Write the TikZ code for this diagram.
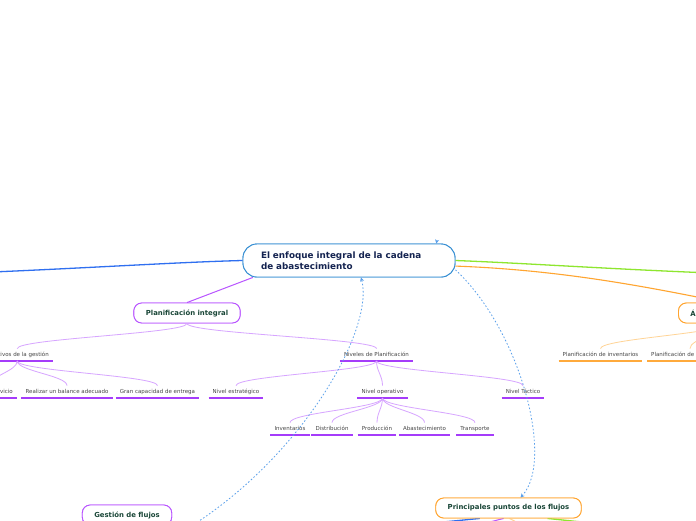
\documentclass[tikz,border=0pt]{standalone}
\usepackage{fontspec}
\setmainfont{DejaVu Sans}
\usetikzlibrary{arrows.meta,calc}
\definecolor{blueline}{RGB}{47,111,240}
\definecolor{greenline}{RGB}{142,230,47}
\definecolor{orangeline}{RGB}{255,165,48}
\definecolor{purpline}{RGB}{185,85,255}
\definecolor{ulpurple}{RGB}{165,60,250}
\definecolor{lightpurple}{RGB}{215,165,255}
\definecolor{lightorange}{RGB}{255,212,150}
\definecolor{ulorange}{RGB}{255,170,60}
\definecolor{dashblue}{RGB}{90,160,235}
\definecolor{centralborder}{RGB}{50,140,210}
\definecolor{centraltext}{RGB}{20,35,80}
\definecolor{nodetext}{RGB}{25,70,55}
\definecolor{leaftext}{RGB}{70,70,70}
\tikzset{
  central/.style={draw=centralborder, line width=0.9pt, fill=white, rounded corners=14pt,
    minimum width=212pt, minimum height=33pt, text width=176pt, inner xsep=18pt, align=left,
    font=\bfseries\fontsize{8.8}{11}\selectfont, text=centraltext},
  topic/.style={line width=0.9pt, fill=white, rounded corners=8pt, minimum height=20pt,
    inner xsep=12pt, font=\bfseries\fontsize{6.9}{8}\selectfont, text=nodetext},
  leaf/.style={font=\fontsize{5.5}{6.5}\selectfont, text=leaftext, inner xsep=4pt,
    inner ysep=2.5pt, text height=5.5pt, text depth=1.5pt},
  ulp/.style={draw=ulpurple, line width=1.6pt},
  ulo/.style={draw=ulorange, line width=1.6pt},
  branchp/.style={draw=lightpurple, line width=0.8pt},
  brancho/.style={draw=lightorange, line width=0.8pt},
  relation/.style={draw=dashblue, line width=0.8pt, dash pattern=on 1.6pt off 2pt,
    -{Stealth[length=4pt,width=4pt]}},
}
\newcommand{\curve}[3]{\draw[#1] (#2.south) .. controls +(0,10) and +(0,-10) .. (#3.north);}
\newcommand{\uline}[2]{\draw[#1] (#2.south west) -- (#2.south east);}
\begin{document}
\begin{tikzpicture}[x=1pt,y=-1pt]
\useasboundingbox (0,0) rectangle (696,520);
\clip (0,0) rectangle (696,520);
\fill[white] (0,0) rectangle (696,520);

% off-screen targets
\coordinate (offL) at (-120,276);
\coordinate (offR) at (800,276);
\coordinate (gfL) at (40,530);
\coordinate (gfR) at (210,530);
\coordinate (ppL) at (360,530);
\coordinate (ppR) at (660,530);
\coordinate (ppP) at (458,530);
\coordinate (ppO) at (532,530);
\coordinate (relS) at (185,530);
\coordinate (relT) at (437,240);

\node[central] (c) at (349,260.5) {El enfoque integral de la cadena\\de abastecimiento};
\node[topic, draw=purpline] (pi) at (187,313) {Planificación integral};
\node[topic, draw=orangeline, anchor=west] (ar) at (678,313) {Áreas de decisión};
\node[topic, draw=purpline] (gf) at (127,515) {Gestión de flujos};
\node[topic, draw=orangeline] (pp) at (508.5,508) {Principales puntos de los flujos};

% main branches
\draw[blueline, line width=1.3pt] (c.west) .. controls +(-80,2) and +(150,-4) .. (offL);
\draw[greenline, line width=1.3pt] (c.east) .. controls +(80,3) and +(-150,-4) .. (offR);
\draw[orangeline, line width=1.1pt] (c.-3) .. controls +(110,4) and +(-70,-14) .. (ar.north);
\draw[purpline, line width=1pt] (c.190) -- (pi.north);

\draw[blueline, line width=1.3pt] (gf.south west) -- (gfL);
\draw[greenline, line width=1.3pt] (gf.south east) -- (gfR);
\draw[blueline, line width=1.3pt] (pp.200) -- (ppL);
\draw[greenline, line width=1.3pt] (pp.-15) -- (ppR);
\draw[purpline, line width=1pt] (pp.-115) -- (ppP);
\draw[lightorange, line width=1pt] (pp.-85) -- (ppO);

% redraw nodes on top of branch lines
\node[central] at (c) {El enfoque integral de la cadena\\de abastecimiento};
\node[topic, draw=purpline] at (pi) {Planificación integral};
\node[topic, draw=orangeline, anchor=west] at (ar.west) {Áreas de decisión};
\node[topic, draw=purpline] at (gf) {Gestión de flujos};
\node[topic, draw=orangeline] at (pp) {Principales puntos de los flujos};

% Planificación integral subtree
\node[leaf, anchor=south east] (obj) at (53,361) {Objetivos de la gestión};
\node[leaf, anchor=south] (niv) at (376.5,361) {Niveles de Planificación};
\uline{ulp}{obj}\uline{ulp}{niv}
\curve{branchp}{pi}{obj}
\curve{branchp}{pi}{niv}

\node[leaf, anchor=south east] (ser) at (17,398) {Nivel de servicio};
\node[leaf, anchor=south] (bal) at (67,398) {Realizar un balance adecuado};
\node[leaf, anchor=south] (gran) at (157.5,398) {Gran capacidad de entrega};
\foreach \n in {ser,bal,gran} {\uline{ulp}{\n}\curve{branchp}{obj}{\n}}

\node[leaf, anchor=south] (estr) at (236,398) {Nivel estratégico};
\node[leaf, anchor=south] (oper) at (382.5,398) {Nivel operativo};
\node[leaf, anchor=south] (tact) at (523,398) {Nivel Táctico};
\foreach \n in {estr,oper,tact} {\uline{ulp}{\n}\curve{branchp}{niv}{\n}}

\node[leaf, anchor=south] (inv) at (290,435) {Inventarios};
\node[leaf, anchor=south] (dist) at (332,435) {Distribución};
\node[leaf, anchor=south] (prod) at (377,435) {Producción};
\node[leaf, anchor=south] (abas) at (424.5,435) {Abastecimiento};
\node[leaf, anchor=south] (trans) at (475,435) {Transporte};
\foreach \n in {inv,dist,prod,abas,trans} {\uline{ulp}{\n}\curve{branchp}{oper}{\n}}

% Áreas subtree
\node[leaf, anchor=south] (pinv) at (600.5,361) {Planificación de inventarios};
\node[leaf, anchor=south west] (pdem) at (647,361) {Planificación de la demanda};
\uline{ulo}{pinv}\uline{ulo}{pdem}
\curve{brancho}{ar}{pinv}
\curve{brancho}{ar}{pdem}

% relations
\draw[relation] (relS) .. controls (300,460) and (375,330) .. ($(c.south)+(12,0)$);
\draw[relation] (c.-5) .. controls (520,330) and (555,460) .. ($(pp.north)+(12,0)$);
\draw[relation] (relT) -- ($(c.north)!0.82!(c.north east)$);
\end{tikzpicture}
\end{document}
